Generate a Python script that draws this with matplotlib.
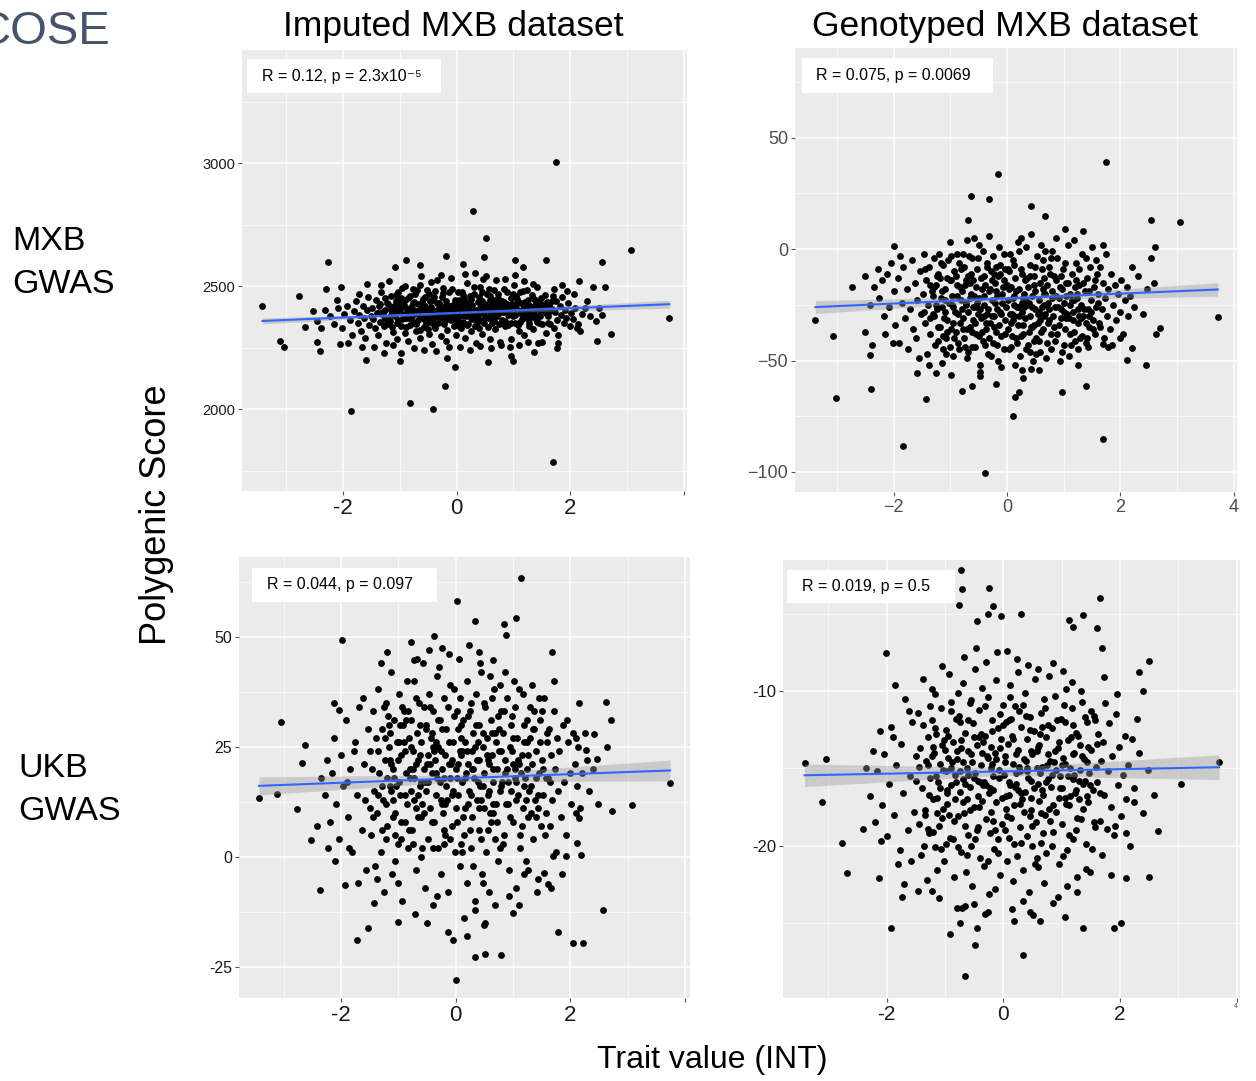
import numpy as np
import matplotlib
matplotlib.use("Agg")
import matplotlib.pyplot as plt
from matplotlib.patches import Rectangle

plt.rcParams['font.family'] = ['Liberation Sans', 'DejaVu Sans']
plt.rcParams['axes.unicode_minus'] = False

W, H = 1256, 1081

# --- data: (trait value, polygenic score) ---
imp_mxb_pts = [
    # outliers
    (1.74, 3005), (0.29, 2804), (0.52, 2695), (3.07, 2649), (-2.25, 2598), (-0.88, 2606),
    (-0.18, 2622), (0.49, 2618), (1.03, 2607), (1.58, 2606), (2.55, 2598), (-0.65, 2588),
    (-1.08, 2579), (0.11, 2591), (1.16, 2579), (-3.41, 2420), (3.74, 2370), (-3.11, 2278),
    (-3.04, 2253), (-2.4, 2238), (2.72, 2306), (2.46, 2276), (-1.59, 2200), (-1.0, 2198),
    (-0.16, 2210), (-0.02, 2173), (0.56, 2192), (0.99, 2195), (0.96, 2218), (1.37, 2233),
    (-0.21, 2093), (-0.81, 2024), (-0.41, 2002), (-1.85, 1994), (1.69, 1785), (-2.76, 2460),
    (-2.67, 2333), (-2.46, 2272), (-2.04, 2266), (-2.29, 2487), (-2.03, 2495), (2.4, 2498),
    (2.61, 2495), (2.15, 2522), (1.76, 2251), (1.78, 2270),
    # cloud
    (-2.31, 2402), (-2.22, 2378), (-2.15, 2345), (-2.08, 2410), (-2.02, 2332), (-1.97, 2389),
    (-1.93, 2421), (-1.88, 2361), (-1.84, 2302), (-1.80, 2398), (-1.77, 2440), (-1.74, 2352),
    (-1.71, 2385), (-1.68, 2318), (-1.65, 2420), (-1.62, 2372), (-1.60, 2291), (-1.57, 2405),
    (-1.55, 2455), (-1.53, 2343), (-2.45, 2360), (-2.52, 2398), (-2.38, 2332), (-1.9, 2270),
    (-1.72, 2468), (-2.1, 2443), (-1.66, 2255), (-1.58, 2510), (-1.5, 2380),
    (-1.48, 2412), (-1.46, 2368), (-1.44, 2330), (-1.42, 2445), (-1.40, 2390), (-1.38, 2301),
    (-1.36, 2421), (-1.34, 2356), (-1.32, 2478), (-1.30, 2383), (-1.28, 2340), (-1.26, 2404),
    (-1.24, 2268), (-1.22, 2431), (-1.20, 2372), (-1.18, 2349), (-1.16, 2461), (-1.14, 2395),
    (-1.12, 2316), (-1.10, 2418), (-1.08, 2378), (-1.06, 2440), (-1.04, 2285), (-1.02, 2362),
    (-1.00, 2406), (-0.98, 2339), (-0.96, 2492), (-0.94, 2387), (-0.92, 2425), (-0.90, 2310),
    (-0.88, 2370), (-0.86, 2451), (-0.84, 2396), (-0.82, 2344), (-0.80, 2415), (-1.45, 2255),
    (-1.33, 2505), (-1.27, 2230), (-1.19, 2520), (-1.11, 2262), (-1.03, 2475), (-0.97, 2228),
    (-0.91, 2500), (-0.85, 2277), (-1.37, 2392), (-1.25, 2366), (-1.15, 2385), (-1.05, 2399),
    (-0.95, 2365), (-0.87, 2408),
    (-0.79, 2380), (-0.77, 2432), (-0.76, 2355), (-0.74, 2401), (-0.73, 2468), (-0.71, 2318),
    (-0.70, 2390), (-0.68, 2427), (-0.67, 2362), (-0.65, 2505), (-0.64, 2288), (-0.62, 2411),
    (-0.61, 2375), (-0.59, 2448), (-0.58, 2336), (-0.56, 2396), (-0.55, 2420), (-0.53, 2350),
    (-0.52, 2483), (-0.50, 2372), (-0.49, 2308), (-0.47, 2439), (-0.46, 2392), (-0.44, 2415),
    (-0.43, 2265), (-0.41, 2366), (-0.40, 2458), (-0.38, 2384), (-0.37, 2329), (-0.35, 2405),
    (-0.34, 2527), (-0.32, 2352), (-0.31, 2430), (-0.29, 2389), (-0.28, 2296), (-0.26, 2413),
    (-0.25, 2370), (-0.23, 2472), (-0.22, 2345), (-0.20, 2398), (-0.19, 2440), (-0.17, 2321),
    (-0.16, 2382), (-0.14, 2418), (-0.13, 2254), (-0.11, 2395), (-0.10, 2362), (-0.08, 2490),
    (-0.07, 2408), (-0.05, 2339), (-0.04, 2427), (-0.02, 2374), (-0.01, 2301), (-0.75, 2248),
    (-0.63, 2540), (-0.57, 2240), (-0.45, 2518), (-0.36, 2238), (-0.27, 2545), (-0.18, 2276),
    (-0.09, 2535), (-0.66, 2385), (-0.54, 2402), (-0.42, 2377), (-0.33, 2396), (-0.24, 2404),
    (-0.15, 2367), (-0.06, 2412), (-0.48, 2355), (-0.21, 2420),
    (0.01, 2418), (0.02, 2370), (0.04, 2445), (0.05, 2392), (0.07, 2330), (0.08, 2410),
    (0.10, 2478), (0.11, 2356), (0.13, 2401), (0.14, 2289), (0.16, 2433), (0.17, 2381),
    (0.19, 2515), (0.20, 2347), (0.22, 2412), (0.23, 2462), (0.25, 2372), (0.26, 2318),
    (0.28, 2425), (0.29, 2395), (0.31, 2497), (0.32, 2340), (0.34, 2405), (0.35, 2268),
    (0.37, 2438), (0.38, 2384), (0.40, 2457), (0.41, 2362), (0.43, 2415), (0.44, 2305),
    (0.46, 2392), (0.47, 2530), (0.49, 2350), (0.50, 2428), (0.52, 2376), (0.53, 2470),
    (0.55, 2333), (0.56, 2403), (0.58, 2443), (0.59, 2287), (0.61, 2388), (0.62, 2419),
    (0.64, 2361), (0.65, 2486), (0.67, 2398), (0.68, 2326), (0.70, 2437), (0.71, 2380),
    (0.73, 2452), (0.74, 2348), (0.76, 2408), (0.77, 2272), (0.79, 2420), (0.06, 2252),
    (0.15, 2548), (0.24, 2240), (0.33, 2552), (0.42, 2258), (0.51, 2540), (0.60, 2250),
    (0.69, 2525), (0.78, 2260), (0.03, 2398), (0.12, 2385), (0.21, 2390), (0.30, 2378),
    (0.39, 2409), (0.48, 2397), (0.57, 2371), (0.66, 2414), (0.75, 2392), (0.18, 2428),
    (0.45, 2440), (0.63, 2402), (0.27, 2365),
    (0.81, 2395), (0.83, 2438), (0.85, 2360), (0.87, 2415), (0.89, 2475), (0.91, 2341),
    (0.93, 2402), (0.95, 2286), (0.97, 2426), (0.99, 2380), (1.01, 2505), (1.03, 2352),
    (1.05, 2410), (1.07, 2448), (1.09, 2318), (1.11, 2392), (1.13, 2430), (1.15, 2366),
    (1.17, 2480), (1.19, 2300), (1.21, 2405), (1.23, 2373), (1.25, 2445), (1.27, 2338),
    (1.29, 2418), (1.31, 2390), (1.33, 2465), (1.35, 2325), (1.37, 2400), (1.39, 2432),
    (1.41, 2356), (1.43, 2268), (1.45, 2412), (1.47, 2380), (1.49, 2452), (1.51, 2345),
    (1.53, 2420), (1.55, 2398), (1.57, 2310), (1.59, 2436), (0.86, 2530), (0.94, 2255),
    (1.02, 2545), (1.10, 2262), (1.18, 2520), (1.26, 2275), (1.34, 2510), (1.42, 2498),
    (1.50, 2275), (0.90, 2385), (0.98, 2410), (1.14, 2398), (1.22, 2383), (1.38, 2376),
    (1.46, 2405),
    (1.61, 2380), (1.63, 2425), (1.65, 2345), (1.67, 2408), (1.69, 2462), (1.71, 2330),
    (1.73, 2396), (1.75, 2440), (1.77, 2362), (1.79, 2300), (1.81, 2418), (1.83, 2385),
    (1.86, 2455), (1.88, 2350), (1.90, 2402), (1.93, 2372), (1.96, 2432), (1.99, 2340),
    (2.02, 2392), (2.05, 2365), (2.08, 2410), (2.11, 2330), (2.14, 2345), (2.17, 2320),
    (2.20, 2388), (2.25, 2412), (1.72, 2490), (1.85, 2505), (1.95, 2480), (2.06, 2470),
    (2.3, 2440), (2.35, 2380), (2.5, 2410), (2.55, 2385), (2.45, 2360),
]
# the solid black core of the cloud
imp_mxb_core = [
    (-1.29, 2395), (-1.21, 2426), (-1.17, 2358), (-1.09, 2401), (-1.01, 2442), (-0.93, 2373),
    (-0.89, 2333), (-0.81, 2459), (-0.78, 2411), (-0.72, 2345), (-0.69, 2398), (-0.6, 2436),
    (-0.51, 2389), (-0.48, 2470), (-0.39, 2341), (-0.3, 2412), (-0.26, 2455), (-0.12, 2376),
    (-0.03, 2443), (0.0, 2360), (0.09, 2425), (0.12, 2463), (0.18, 2341), (0.27, 2405),
    (0.36, 2352), (0.45, 2478), (0.54, 2415), (0.63, 2350), (0.72, 2468), (0.8, 2362),
    (0.88, 2426), (0.96, 2349), (1.04, 2461), (1.12, 2356), (1.2, 2435), (1.28, 2366),
    (1.36, 2449), (1.44, 2378), (1.52, 2402), (1.6, 2352), (1.68, 2440), (-1.25, 2451),
    (-1.13, 2333), (-0.99, 2418), (-0.86, 2385), (-0.74, 2437), (-0.65, 2322), (-0.55, 2457),
    (-0.44, 2384), (-0.35, 2433), (-0.21, 2363), (-0.14, 2476), (-0.06, 2395), (0.04, 2338),
    (0.13, 2450), (0.22, 2382), (0.3, 2469), (0.39, 2330), (0.48, 2423), (0.57, 2489),
    (0.66, 2358), (0.74, 2421), (0.83, 2487), (0.92, 2397), (1.0, 2470), (1.08, 2342),
    (1.16, 2409), (1.24, 2486), (1.32, 2408), (1.4, 2365), (1.48, 2427), (1.56, 2465),
    (-1.35, 2428), (-1.23, 2347), (-1.07, 2466), (-0.95, 2420), (-0.83, 2371), (-0.7, 2484),
    (-0.62, 2395), (-0.5, 2325), (-0.41, 2446), (-0.32, 2374), (-0.23, 2492), (-0.1, 2420),
    (0.02, 2475), (0.07, 2385), (0.16, 2401), (0.25, 2448), (0.34, 2377), (0.41, 2495),
    (0.5, 2372), (0.59, 2461), (0.68, 2392), (0.77, 2440), (0.86, 2338), (0.95, 2453),
    (1.03, 2383), (1.11, 2475), (1.19, 2420), (1.27, 2351), (1.35, 2383), (1.43, 2440),
    (1.58, 2390), (-0.97, 2452), (-0.77, 2490), (-0.58, 2367), (-0.37, 2481), (-0.18, 2407),
    (0.1, 2346), (0.28, 2386), (0.47, 2411), (0.65, 2446), (0.84, 2404), (1.05, 2428),
    (1.25, 2398), (1.45, 2349), (-1.15, 2407), (-1.05, 2352), (-0.9, 2445), (-0.8, 2400),
    (-0.6, 2410), (-0.4, 2400), (-0.2, 2385), (0.2, 2420), (0.4, 2395), (0.6, 2425),
    (0.8, 2440), (1.0, 2395), (1.2, 2378), (1.4, 2418), (1.65, 2400),
]

gen_mxb_pts = [
    # outliers
    (1.74, 39.1), (-0.16, 33.7), (-0.64, 23.8), (-0.32, 22.6), (0.42, 19.6), (-0.69, 13.2),
    (0.67, 15.0), (2.54, 13.2), (3.06, 12.0), (-2.0, 1.5), (2.61, 1.0), (-3.38, -31.6),
    (3.72, -30.5), (-3.07, -38.8), (-3.01, -66.6), (-2.4, -62.7), (-1.42, -67.2), (-1.84, -88.3),
    (-0.39, -100.3), (0.1, -74.8), (1.69, -85.0), (1.39, -61.2), (0.98, -64.2), (0.14, -66.3),
    (0.21, -64.1), (-0.79, -63.8), (-0.62, -61.2), (-0.19, -60.3), (2.45, -51.8), (2.12, -49.9),
    (1.25, -51.8), (2.63, -38.3), (2.7, -35.3), (-2.73, -16.9), (-2.5, -37.1), (-2.38, -43.0),
    (-2.42, -47.6), (-2.01, -42.0), (-1.58, -55.5), (-1.26, -55.5), (-0.98, -56.7), (-0.47, -57.0),
    (0.27, -54.3), (0.28, -57.8), (0.42, -54.0), (0.57, -54.3), (1.69, -42.4), (1.78, -43.9),
    (2.21, -44.3),
    # cloud
    (-2.28, -9), (-2.25, -22), (-2.2, -14), (-2.17, -30), (-2.12, -11), (-2.08, -26), (-2.05, -6),
    (-2.0, -19), (-1.97, -34), (-1.93, -13), (-1.9, -42), (-1.86, -24), (-1.83, -8), (-1.8, -31),
    (-1.77, -18), (-1.74, -45), (-1.71, -27), (-1.68, -5), (-1.65, -36), (-1.62, -15), (-1.59, -23),
    (-1.56, -49), (-1.53, -10), (-1.51, -29), (-2.35, -17), (-2.42, -25), (-2.5, -12), (-1.88, -3),
    (-1.6, -40), (-2.15, -38),
    (-1.49, -20), (-1.47, -2), (-1.45, -33), (-1.43, -14), (-1.41, -47), (-1.39, -25), (-1.37, -8),
    (-1.35, -38), (-1.33, -19), (-1.31, -29), (-1.29, -4), (-1.27, -43), (-1.25, -16), (-1.23, -27),
    (-1.21, -11), (-1.19, -35), (-1.17, -22), (-1.15, -51), (-1.13, -7), (-1.11, -31), (-1.09, -18),
    (-1.07, -40), (-1.05, -13), (-1.03, -24), (-1.01, 3), (-0.99, -36), (-0.97, -21), (-0.95, -48),
    (-0.93, -10), (-0.91, -28), (-0.89, -16), (-0.87, -42), (-0.85, -6), (-0.83, -33), (-0.81, -23),
    (-1.46, -28), (-1.38, -52), (-1.3, -21), (-1.22, -41), (-1.14, -26), (-1.06, -32), (-0.98, -14),
    (-0.9, -37), (-0.84, -45), (-1.44, -9), (-1.36, -16), (-1.28, -30), (-1.2, -2), (-1.12, -45),
    (-1.04, -5), (-0.96, -26), (-0.88, -2), (-1.18, -13), (-1.1, -23), (-1.0, -44),
    (-0.79, -19), (-0.78, -31), (-0.76, -8), (-0.75, -40), (-0.73, -24), (-0.72, -14), (-0.7, -49),
    (-0.69, -28), (-0.67, -3), (-0.66, -35), (-0.64, -20), (-0.63, -11), (-0.61, -44), (-0.6, -26),
    (-0.58, 5), (-0.57, -33), (-0.55, -17), (-0.54, -38), (-0.52, -9), (-0.51, -29), (-0.49, -22),
    (-0.48, -52), (-0.46, -13), (-0.45, -31), (-0.43, -1), (-0.42, -41), (-0.4, -25), (-0.39, -16),
    (-0.37, -36), (-0.36, -6), (-0.34, -27), (-0.33, -47), (-0.31, -19), (-0.3, -33), (-0.28, -10),
    (-0.27, -23), (-0.25, -42), (-0.24, -3), (-0.22, -30), (-0.21, -15), (-0.19, -37), (-0.18, -21),
    (-0.16, -50), (-0.15, -12), (-0.13, -28), (-0.12, -7), (-0.1, -39), (-0.09, -24), (-0.07, -17),
    (-0.06, -45), (-0.04, -32), (-0.03, -9), (-0.01, -26), (-0.74, -16), (-0.62, -37), (-0.53, -24),
    (-0.44, -18), (-0.35, -29), (-0.26, -14), (-0.17, -27), (-0.08, -20), (-0.71, 4), (-0.5, 2),
    (-0.32, 6), (-0.14, 1), (-0.68, -46), (-0.47, -55), (-0.29, -48), (-0.11, -53), (-0.65, -22),
    (-0.41, -12), (-0.23, -35), (-0.05, -2), (-0.56, -44), (-0.2, -8),
    (0.01, -23), (0.02, -36), (0.04, -10), (0.05, -29), (0.07, -17), (0.08, -44), (0.1, -5),
    (0.11, -32), (0.13, -21), (0.14, -13), (0.16, -40), (0.17, -26), (0.19, 3), (0.2, -34),
    (0.22, -18), (0.23, -48), (0.25, -9), (0.26, -28), (0.28, -22), (0.29, -38), (0.31, -14),
    (0.32, -31), (0.34, 1), (0.35, -25), (0.37, -43), (0.38, -17), (0.4, -30), (0.41, -7),
    (0.43, -35), (0.44, -21), (0.46, -50), (0.47, -12), (0.49, -27), (0.5, -19), (0.52, -40),
    (0.53, -3), (0.55, -33), (0.56, -23), (0.58, -15), (0.59, -46), (0.61, -26), (0.62, -9),
    (0.64, -36), (0.65, -20), (0.67, -29), (0.68, -1), (0.7, -42), (0.71, -16), (0.73, -24),
    (0.74, -32), (0.76, -11), (0.77, -38), (0.79, -22), (0.06, -2), (0.15, -52), (0.24, 5),
    (0.33, -45), (0.42, 7), (0.51, -47), (0.6, 2), (0.69, -49), (0.78, -4), (0.03, -18),
    (0.12, -25), (0.21, -30), (0.3, -20), (0.39, -24), (0.48, -34), (0.57, -28), (0.66, -13),
    (0.75, -27), (0.09, -39), (0.27, -11), (0.45, -26), (0.63, -18),
    (0.81, -30), (0.83, -12), (0.85, -41), (0.87, -21), (0.89, -4), (0.91, -34), (0.93, -17),
    (0.95, -27), (0.97, -46), (0.99, -9), (1.01, -24), (1.03, -36), (1.05, -15), (1.07, 2),
    (1.09, -31), (1.11, -20), (1.13, -43), (1.15, -11), (1.17, -28), (1.19, -37), (1.21, -6),
    (1.23, -22), (1.25, -33), (1.27, -16), (1.29, -40), (1.31, -25), (1.33, -2), (1.35, -30),
    (1.37, -19), (1.39, -42), (1.41, -13), (1.43, -27), (1.45, -35), (1.47, -8), (1.49, -23),
    (1.51, -32), (1.53, -17), (1.55, -38), (1.57, -26), (1.59, -11), (0.86, 5), (0.94, -50),
    (1.02, 9), (1.1, -48), (1.18, 4), (1.26, -45), (1.34, 8), (1.42, -40), (1.5, 1), (0.9, -26),
    (0.98, -18), (1.06, -29), (1.14, -23), (1.22, -14), (1.3, -31),
    (1.61, -20), (1.63, -33), (1.65, -8), (1.67, -27), (1.69, -15), (1.71, -40), (1.73, -22),
    (1.75, -2), (1.77, -30), (1.79, -18), (1.81, -36), (1.84, -11), (1.87, -25), (1.9, -16),
    (1.93, -32), (1.96, -20), (1.99, -28), (2.02, -14), (2.05, -38), (2.08, -23), (2.11, -17),
    (2.14, -30), (2.17, -21), (2.2, -8), (2.25, -26), (2.32, -12), (2.4, -29), (2.48, -18),
    (2.55, -4), (2.6, -15), (1.85, -43), (2.0, -40), (1.7, 2),
]
gen_mxb_core = [
    (-1.29, -17), (-1.21, -35), (-1.17, -6), (-1.09, -28), (-1.01, -14), (-0.93, -40), (-0.89, -21),
    (-0.81, -9), (-0.78, -36), (-0.72, -25), (-0.69, -12), (-0.6, -32), (-0.51, -4), (-0.48, -27),
    (-0.39, -43), (-0.3, -18), (-0.26, -30), (-0.12, -11), (-0.03, -38), (0.0, -16), (0.09, -29),
    (0.12, -7), (0.18, -42), (0.27, -24), (0.36, -13), (0.45, -35), (0.54, -29), (0.63, -5),
    (0.72, -33), (0.8, -19), (0.88, -38), (0.96, -12), (1.04, -31), (1.12, -25), (1.2, -41),
    (1.28, -9), (1.36, -27), (1.44, -19), (1.52, -36), (1.6, -24), (-1.25, -25), (-1.13, -39),
    (-0.99, -3), (-0.86, -29), (-0.74, -44), (-0.65, -15), (-0.55, -26), (-0.44, -37), (-0.35, -8),
    (-0.21, -24), (-0.14, -34), (-0.06, -14), (0.04, -45), (0.13, -30), (0.22, -1), (0.3, -26),
    (0.39, -37), (0.48, -16), (0.57, -41), (0.66, -25), (0.74, -8), (0.83, -35), (0.92, -22),
    (1.0, -43), (1.08, -15), (1.16, -32), (1.24, -20), (1.32, -39), (1.4, -4), (1.48, -28),
    (1.56, -14), (-1.35, -31), (-1.23, -12), (-1.07, -47), (-0.95, -33), (-0.83, -17), (-0.7, -36),
    (-0.62, -4), (-0.5, -39), (-0.41, -21), (-0.32, -40), (-0.23, -11), (-0.1, -29), (0.02, -9),
    (0.07, -33), (0.16, -19), (0.25, -39), (0.34, -23), (0.41, -46), (0.5, -8), (0.59, -32),
    (0.68, -20), (0.77, -45), (0.86, -14), (0.95, -31), (1.03, -6), (1.11, -38), (1.19, -23),
    (1.27, -30), (1.35, -15), (1.43, -44), (1.58, -5), (-0.97, -25), (-0.77, -2), (-0.58, -21),
    (-0.37, -33), (-0.18, -43), (0.1, -22), (0.28, -34), (0.47, -41), (0.65, -30), (0.84, -26),
    (1.05, -21), (1.25, -27), (1.45, -30), (-1.15, -19), (-1.05, -37), (-0.9, -12), (-0.8, -27),
    (-0.6, -14), (-0.4, -30), (-0.2, -19), (0.2, -26), (0.4, -12), (0.6, -37), (0.8, -1),
    (1.0, -28), (1.2, -17), (1.4, -33), (1.65, -35),
]

imp_ukb_pts = [
    # outliers
    (1.14, 63.3), (0.03, 58.0), (1.06, 54.2), (0.33, 53.6), (0.84, 52.8), (0.88, 50.4),
    (-0.38, 50.2), (-1.98, 49.2), (-0.78, 48.9), (-0.24, 47.5), (-1.19, 46.5), (0.4, 46.6),
    (1.68, 46.5), (-0.72, 44.8), (0.65, 44.6), (-3.05, 30.7), (-2.12, 35.0), (-2.04, 33.4),
    (-2.62, 25.4), (-2.68, 21.3), (-3.43, 13.3), (-3.11, 14.3), (-2.77, 10.9), (3.74, 16.7),
    (3.08, 11.7), (2.73, 10.5), (2.71, 31.1), (2.63, 35.2), (2.65, 24.9), (-2.52, 3.7),
    (-2.23, 2.0), (-2.36, -7.5), (-1.93, -6.4), (-1.72, -19.0), (-1.53, -16.2), (-1.42, -10.5),
    (-1.0, -14.9), (-0.05, -19.0), (0.0, -27.9), (0.34, -22.8), (0.51, -22.1), (0.8, -22.3),
    (0.19, -18.0), (0.5, -15.4), (1.01, -12.9), (1.78, -17.1), (2.05, -19.6), (2.22, -19.6),
    (2.58, -12.0), (2.18, 0.4), (2.11, 3.1), (1.92, 0.1), (1.7, 0.2), (1.61, -6.1), (1.55, -3.8),
    (2.16, 8.7), (2.10, 10.0), (2.16, 34.9), (2.42, 27.9), (2.28, 24.2), (2.47, 22.1),
    # cloud
    (-2.28, 14), (-2.24, 22), (-2.2, 8), (-2.16, 19), (-2.12, 27), (-2.08, 12), (-2.04, 4),
    (-2.0, 23), (-1.96, 16), (-1.92, 31), (-1.88, 9), (-1.84, 20), (-1.8, 1), (-1.76, 26),
    (-1.72, 14), (-1.68, 34), (-1.64, 6), (-1.6, 21), (-1.56, -3), (-1.53, 29), (-1.5, 11),
    (-2.35, 18), (-2.42, 7), (-1.9, 17), (-1.7, -6), (-1.62, 36), (-1.78, 24), (-2.1, -1),
    (-1.86, 2), (-1.58, 13),
    (-1.49, 24), (-1.47, 5), (-1.45, 33), (-1.43, 15), (-1.41, -2), (-1.39, 27), (-1.37, 10),
    (-1.35, 38), (-1.33, 19), (-1.31, 1), (-1.29, 29), (-1.27, 13), (-1.25, -8), (-1.23, 22),
    (-1.21, 35), (-1.19, 7), (-1.17, 25), (-1.15, 16), (-1.13, 42), (-1.11, -4), (-1.09, 20),
    (-1.07, 31), (-1.05, 10), (-1.03, 26), (-1.01, 3), (-0.99, 37), (-0.97, 14), (-0.95, 23),
    (-0.93, -10), (-0.91, 30), (-0.89, 8), (-0.87, 19), (-0.85, 40), (-0.83, 2), (-0.81, 27),
    (-1.46, 20), (-1.38, -5), (-1.3, 44), (-1.22, 12), (-1.14, 28), (-1.06, -1), (-0.98, 17),
    (-0.9, 33), (-0.84, 12), (-1.44, 9), (-1.36, 24), (-1.28, 6), (-1.2, 18), (-1.12, 21),
    (-1.04, 16), (-0.96, 4), (-0.88, 24), (-1.18, 32), (-1.1, 13), (-1.0, -6),
    (-0.79, 18), (-0.78, 31), (-0.76, 6), (-0.75, 24), (-0.73, 13), (-0.72, 40), (-0.7, -3),
    (-0.69, 21), (-0.67, 28), (-0.66, 9), (-0.64, 35), (-0.63, 16), (-0.61, 0), (-0.6, 26),
    (-0.58, 12), (-0.57, 44), (-0.55, 20), (-0.54, -7), (-0.52, 30), (-0.51, 15), (-0.49, 23),
    (-0.48, 4), (-0.46, 37), (-0.45, 11), (-0.43, 27), (-0.42, 19), (-0.4, -11), (-0.39, 33),
    (-0.37, 8), (-0.36, 22), (-0.34, 14), (-0.33, 41), (-0.31, 2), (-0.3, 25), (-0.28, 17),
    (-0.27, 31), (-0.25, -4), (-0.24, 20), (-0.22, 10), (-0.21, 36), (-0.19, 23), (-0.18, 5),
    (-0.16, 29), (-0.15, 13), (-0.13, -8), (-0.12, 26), (-0.1, 18), (-0.09, 39), (-0.07, 7),
    (-0.06, 22), (-0.04, 15), (-0.03, 32), (-0.01, 1), (-0.74, 20), (-0.62, 23), (-0.53, 17),
    (-0.44, 21), (-0.35, 19), (-0.26, 24), (-0.17, 16), (-0.08, 21), (-0.71, -13), (-0.5, -15),
    (-0.32, -9), (-0.14, -17), (-0.68, 45), (-0.47, 47), (-0.29, 43), (-0.11, 46), (-0.65, 14),
    (-0.41, 28), (-0.23, 12), (-0.05, 26), (-0.56, 34), (-0.2, 3),
    (0.01, 20), (0.02, 8), (0.04, 29), (0.05, 14), (0.07, 36), (0.08, -2), (0.1, 23), (0.11, 17),
    (0.13, 31), (0.14, 5), (0.16, 26), (0.17, 11), (0.19, 40), (0.2, -6), (0.22, 21), (0.23, 15),
    (0.25, 33), (0.26, 2), (0.28, 24), (0.29, 9), (0.31, 28), (0.32, 18), (0.34, -10), (0.35, 37),
    (0.37, 13), (0.38, 22), (0.4, 6), (0.41, 30), (0.43, 16), (0.44, 42), (0.46, -4), (0.47, 25),
    (0.49, 11), (0.5, 19), (0.52, 34), (0.53, 1), (0.55, 27), (0.56, 14), (0.58, 21), (0.59, -8),
    (0.61, 31), (0.62, 8), (0.64, 23), (0.65, 17), (0.67, 38), (0.68, 4), (0.7, 26), (0.71, 12),
    (0.73, 20), (0.74, -1), (0.76, 29), (0.77, 15), (0.79, 33), (0.06, 45), (0.15, -14),
    (0.24, 48), (0.33, -12), (0.42, 44), (0.51, -15), (0.6, 41), (0.69, -11), (0.78, 39),
    (0.03, 18), (0.12, 24), (0.21, 12), (0.3, 20), (0.39, 26), (0.48, 16), (0.57, 22), (0.66, 10),
    (0.75, 24), (0.09, 3), (0.27, 35), (0.45, 13), (0.63, 28),
    (0.81, 17), (0.83, 28), (0.85, 5), (0.87, 22), (0.89, 36), (0.91, 12), (0.93, -3), (0.95, 25),
    (0.97, 15), (0.99, 32), (1.01, 8), (1.03, 20), (1.05, -7), (1.07, 27), (1.09, 14), (1.11, 38),
    (1.13, 2), (1.15, 23), (1.17, 11), (1.19, 30), (1.21, 18), (1.23, -1), (1.25, 26), (1.27, 9),
    (1.29, 34), (1.31, 16), (1.33, 21), (1.35, 4), (1.37, 29), (1.39, 13), (1.41, 24), (1.43, -5),
    (1.45, 19), (1.47, 31), (1.49, 7), (1.51, 22), (1.53, 14), (1.55, 36), (1.57, 10), (1.59, 26),
    (0.86, 42), (0.94, -9), (1.02, 40), (1.1, -11), (1.18, 37), (1.26, -3), (1.34, 39),
    (1.42, -8), (1.5, 33), (0.9, 20), (0.98, 24), (1.06, 17), (1.14, 19), (1.22, 13), (1.3, 27),
    (1.61, 18), (1.63, 29), (1.65, 7), (1.67, 23), (1.69, 13), (1.71, 33), (1.73, 20), (1.75, 1),
    (1.77, 27), (1.79, 15), (1.81, 24), (1.84, 9), (1.87, 30), (1.9, 17), (1.93, 5), (1.96, 26),
    (1.99, 19), (2.02, 12), (2.05, 28), (2.08, 21), (2.11, 16), (2.14, 25), (2.17, 11), (2.2, 19),
    (2.25, 28), (2.32, 15), (2.4, 20), (2.48, 12), (1.72, 40), (1.85, -4), (1.95, 31), (2.1, 27),
    (1.66, -7), (2.3, 22),
]
imp_ukb_core = [
    (-1.29, 16), (-1.21, 4), (-1.17, 30), (-1.09, 9), (-1.01, 22), (-0.93, 34), (-0.89, 14),
    (-0.81, 6), (-0.78, 25), (-0.72, 18), (-0.69, 36), (-0.6, 9), (-0.51, 29), (-0.48, 17),
    (-0.39, 2), (-0.3, 31), (-0.26, 13), (-0.12, 21), (-0.03, 38), (0.0, 11), (0.09, 27),
    (0.12, 1), (0.18, 19), (0.27, 14), (0.36, 30), (0.45, 4), (0.54, 23), (0.63, 36), (0.72, 8),
    (0.8, 24), (0.88, 12), (0.96, 30), (1.04, 18), (1.12, 5), (1.2, 26), (1.28, 15), (1.36, 33),
    (1.44, 11), (1.52, 20), (1.6, 28), (-1.25, 34), (-1.13, 15), (-0.99, 26), (-0.86, 31),
    (-0.74, 3), (-0.65, 22), (-0.55, 10), (-0.44, 34), (-0.35, 26), (-0.21, 6), (-0.14, 34),
    (-0.06, 14), (0.04, 21), (0.13, 9), (0.22, 32), (0.3, -2), (0.39, 17), (0.48, 28), (0.57, 6),
    (0.66, 20), (0.74, 32), (0.83, 3), (0.92, 17), (1.0, 27), (1.08, 22), (1.16, 7), (1.24, 31),
    (1.32, 10), (1.4, 18), (1.48, 26), (1.56, 5), (-1.35, 14), (-1.23, 27), (-1.07, 18),
    (-0.95, 8), (-0.83, 33), (-0.7, 11), (-0.62, 30), (-0.5, 21), (-0.41, 8), (-0.32, 18),
    (-0.23, 29), (-0.1, 4), (0.02, 33), (0.07, 24), (0.16, 18), (0.25, 6), (0.34, 25), (0.41, 11),
    (0.5, 35), (0.59, 15), (0.68, 28), (0.77, 2), (0.86, 19), (0.95, 9), (1.03, 34), (1.11, 21),
    (1.19, -4), (1.27, 23), (1.35, 29), (1.43, 14), (1.58, 18), (-0.97, 30), (-0.77, 15),
    (-0.58, 2), (-0.37, 24), (-0.18, 12), (0.1, 30), (0.28, 20), (0.47, -6), (0.65, 12),
    (0.84, 33), (1.05, 13), (1.25, 20), (1.45, 36), (-1.15, 22), (-1.05, 5), (-0.9, 26),
    (-0.8, 20), (-0.6, 17), (-0.4, 25), (-0.2, 18), (0.2, 24), (0.4, 22), (0.6, 10), (0.8, 16),
    (1.0, 21), (1.2, 16), (1.4, 9), (1.65, 17),
]

gen_ukb_pts = [
    # outliers
    (-0.73, -2.18), (-0.71, -3.38), (-0.24, -3.32), (-0.76, -4.42), (1.66, -4.0), (-0.17, -4.5),
    (-0.27, -5.04), (-0.04, -5.15), (0.31, -5.04), (1.37, -5.09), (1.13, -5.39), (-0.46, -5.46),
    (1.19, -5.87), (1.6, -5.95), (-2.02, -7.52), (1.7, -7.24), (2.5, -8.07), (2.32, -8.78),
    (2.39, -10.0), (-3.41, -14.65), (-3.05, -14.4), (-3.11, -17.15), (-2.77, -19.8),
    (-2.69, -21.8), (-2.13, -22.1), (-1.93, -25.3), (3.7, -14.6), (3.05, -16.0), (2.65, -19.07),
    (2.59, -16.7), (2.5, -22.0), (2.1, -22.1), (1.89, -25.3), (2.02, -25.0), (1.36, -25.3),
    (1.05, -24.6), (0.34, -27.1), (-0.65, -28.4), (-0.49, -26.4), (-0.91, -25.7), (-0.46, -25.3),
    (-0.74, -25.0), (0.18, -24.9), (0.45, -24.3), (0.63, -24.9), (-0.27, -24.3), (0.85, -23.7),
    (-0.8, -24.0), (-0.65, -23.9), (-1.73, -23.3), (-1.22, -22.9), (2.25, -17.2), (1.91, -18.7),
    # cloud
    (-2.28, -16.8), (-2.24, -13.9), (-2.2, -18.5), (-2.16, -15.2), (-2.12, -12.6), (-2.08, -17.4),
    (-2.04, -14.1), (-2.0, -19.4), (-1.96, -16.0), (-1.92, -12.3), (-1.88, -18.0), (-1.84, -14.8),
    (-1.8, -21.2), (-1.76, -13.4), (-1.72, -16.6), (-1.68, -10.5), (-1.64, -19.0), (-1.6, -15.5),
    (-1.56, -12.0), (-1.53, -17.8), (-1.5, -14.2), (-2.35, -15.0), (-2.4, -18.9), (-1.9, -13.0),
    (-1.7, -22.5), (-1.62, -11.3), (-1.78, -20.3), (-2.1, -19.7), (-1.86, -9.6), (-1.58, -21.0),
    (-1.49, -15.8), (-1.47, -11.4), (-1.45, -18.6), (-1.43, -13.7), (-1.41, -20.6), (-1.39, -16.3),
    (-1.37, -12.2), (-1.35, -17.7), (-1.33, -14.5), (-1.31, -22.2), (-1.29, -13.0), (-1.27, -19.2),
    (-1.25, -15.6), (-1.23, -9.9), (-1.21, -17.0), (-1.19, -14.0), (-1.17, -20.1), (-1.15, -12.8),
    (-1.13, -16.9), (-1.11, -23.4), (-1.09, -14.7), (-1.07, -11.1), (-1.05, -18.2), (-1.03, -15.1),
    (-1.01, -21.0), (-0.99, -12.5), (-0.97, -17.3), (-0.95, -14.3), (-0.93, -8.9), (-0.91, -19.5),
    (-0.89, -16.1), (-0.87, -13.3), (-0.85, -22.0), (-0.83, -15.4), (-0.81, -11.8), (-1.46, -22.9),
    (-1.38, -9.2), (-1.3, -18.9), (-1.22, -11.9), (-1.14, -21.6), (-1.06, -8.4), (-0.98, -19.9),
    (-0.9, -10.7), (-0.84, -18.4), (-1.44, -14.9), (-1.36, -20.0), (-1.28, -16.7), (-1.2, -13.6),
    (-1.12, -15.9), (-1.04, -17.6), (-0.96, -16.4), (-0.88, -14.6), (-1.18, -10.2), (-1.1, -18.7),
    (-1.0, -13.8),
    (-0.79, -14.4), (-0.78, -18.1), (-0.76, -11.6), (-0.75, -16.5), (-0.73, -20.4), (-0.72, -13.2),
    (-0.7, -15.7), (-0.69, -9.5), (-0.67, -17.9), (-0.66, -12.7), (-0.64, -21.7), (-0.63, -15.0),
    (-0.61, -13.9), (-0.6, -19.3), (-0.58, -10.8), (-0.57, -16.2), (-0.55, -14.1), (-0.54, -22.6),
    (-0.52, -12.1), (-0.51, -17.5), (-0.49, -15.3), (-0.48, -8.6), (-0.46, -19.0), (-0.45, -13.5),
    (-0.43, -16.8), (-0.42, -11.2), (-0.4, -20.8), (-0.39, -14.8), (-0.37, -17.1), (-0.36, -9.8),
    (-0.34, -15.9), (-0.33, -21.3), (-0.31, -12.9), (-0.3, -18.3), (-0.28, -14.2), (-0.27, -10.4),
    (-0.25, -16.6), (-0.24, -23.1), (-0.22, -13.6), (-0.21, -17.8), (-0.19, -11.9), (-0.18, -15.5),
    (-0.16, -20.2), (-0.15, -14.0), (-0.13, -9.3), (-0.12, -17.2), (-0.1, -12.4), (-0.09, -19.6),
    (-0.07, -15.1), (-0.06, -21.9), (-0.04, -13.1), (-0.03, -16.9), (-0.01, -10.9), (-0.74, -15.2),
    (-0.62, -17.0), (-0.53, -14.6), (-0.44, -15.8), (-0.35, -16.1), (-0.26, -14.3), (-0.17, -16.4),
    (-0.08, -15.6), (-0.71, -24.0), (-0.5, -23.8), (-0.32, -24.4), (-0.14, -22.8), (-0.68, -7.8),
    (-0.47, -7.2), (-0.29, -8.1), (-0.11, -7.5), (-0.65, -18.7), (-0.41, -13.0), (-0.23, -19.2),
    (-0.05, -11.5), (-0.56, -20.0), (-0.2, -12.6),
    (0.01, -15.4), (0.02, -19.0), (0.04, -12.0), (0.05, -16.8), (0.07, -21.0), (0.08, -13.4),
    (0.1, -15.9), (0.11, -9.6), (0.13, -18.2), (0.14, -12.9), (0.16, -22.3), (0.17, -14.7),
    (0.19, -17.4), (0.2, -11.0), (0.22, -16.0), (0.23, -20.7), (0.25, -13.8), (0.26, -8.8),
    (0.28, -18.8), (0.29, -15.2), (0.31, -12.3), (0.32, -17.0), (0.34, -21.6), (0.35, -14.4),
    (0.37, -10.1), (0.38, -16.5), (0.4, -19.4), (0.41, -13.1), (0.43, -15.6), (0.44, -23.0),
    (0.46, -11.7), (0.47, -17.7), (0.49, -14.1), (0.5, -20.0), (0.52, -12.6), (0.53, -16.3),
    (0.55, -9.2), (0.56, -18.5), (0.58, -15.0), (0.59, -21.4), (0.61, -13.5), (0.62, -17.1),
    (0.64, -11.4), (0.65, -19.8), (0.67, -14.9), (0.68, -16.7), (0.7, -10.5), (0.71, -18.0),
    (0.73, -13.0), (0.74, -20.5), (0.76, -15.7), (0.77, -12.2), (0.79, -17.6), (0.06, -7.4),
    (0.15, -24.1), (0.24, -7.9), (0.33, -23.6), (0.42, -8.3), (0.51, -24.5), (0.6, -8.6),
    (0.69, -22.4), (0.78, -9.0), (0.03, -14.2), (0.12, -16.1), (0.21, -15.3), (0.3, -16.6),
    (0.39, -14.5), (0.48, -15.8), (0.57, -13.9), (0.66, -16.4), (0.75, -14.8), (0.09, -19.5),
    (0.27, -11.3), (0.45, -18.1), (0.63, -12.8),
    (0.81, -16.2), (0.83, -12.4), (0.85, -19.1), (0.87, -14.6), (0.89, -10.3), (0.91, -17.8),
    (0.93, -13.7), (0.95, -21.2), (0.97, -15.5), (0.99, -11.8), (1.01, -18.6), (1.03, -14.3),
    (1.05, -16.9), (1.07, -9.9), (1.09, -20.3), (1.11, -13.2), (1.13, -17.4), (1.15, -15.0),
    (1.17, -11.1), (1.19, -19.6), (1.21, -14.0), (1.23, -16.6), (1.25, -12.7), (1.27, -22.0),
    (1.29, -15.8), (1.31, -13.5), (1.33, -18.3), (1.35, -10.7), (1.37, -16.0), (1.39, -14.4),
    (1.41, -19.9), (1.43, -12.0), (1.45, -17.2), (1.47, -15.3), (1.49, -21.7), (1.51, -13.8),
    (1.53, -16.4), (1.55, -11.6), (1.57, -18.8), (1.59, -14.9), (0.86, -8.2), (0.94, -23.3),
    (1.02, -8.7), (1.1, -22.6), (1.18, -9.4), (1.26, -23.0), (1.34, -10.0), (1.42, -21.5),
    (1.5, -11.3), (0.9, -15.1), (0.98, -16.3), (1.06, -14.7), (1.14, -16.8), (1.22, -15.4),
    (1.3, -17.0),
    (1.61, -15.9), (1.63, -12.8), (1.65, -18.4), (1.67, -14.5), (1.69, -20.6), (1.71, -13.3),
    (1.73, -16.7), (1.75, -10.8), (1.77, -18.9), (1.79, -15.2), (1.81, -12.1), (1.84, -17.5),
    (1.87, -14.2), (1.9, -19.3), (1.93, -11.5), (1.96, -16.1), (1.99, -13.6), (2.02, -18.1),
    (2.05, -15.4), (2.08, -12.9), (2.11, -17.0), (2.14, -14.8), (2.17, -20.0), (2.2, -13.1),
    (2.25, -16.3), (2.32, -14.0), (2.4, -17.9), (2.48, -15.1), (1.72, -9.1), (1.85, -21.9),
    (1.95, -10.2), (2.1, -19.2), (2.3, -11.8),
]
gen_ukb_core = [
    (-1.29, -14.8), (-1.21, -19.1), (-1.17, -12.4), (-1.09, -16.3), (-1.01, -13.2), (-0.93, -18.0),
    (-0.89, -11.3), (-0.81, -15.9), (-0.78, -20.1), (-0.72, -13.7), (-0.69, -17.2), (-0.6, -11.9),
    (-0.51, -15.6), (-0.48, -19.6), (-0.39, -12.8), (-0.3, -16.1), (-0.26, -21.0), (-0.12, -14.4),
    (-0.03, -18.6), (0.0, -12.2), (0.09, -16.7), (0.12, -10.4), (0.18, -19.9), (0.27, -14.9),
    (0.36, -17.8), (0.45, -12.5), (0.54, -21.2), (0.63, -15.3), (0.72, -11.1), (0.8, -18.4),
    (0.88, -13.9), (0.96, -16.9), (1.04, -10.9), (1.12, -19.3), (1.2, -15.7), (1.28, -12.9),
    (1.36, -17.6), (1.44, -14.6), (1.52, -20.2), (1.6, -13.4), (-1.25, -11.0), (-1.13, -17.9),
    (-0.99, -15.2), (-0.86, -19.6), (-0.74, -12.0), (-0.65, -16.0), (-0.55, -10.6), (-0.44, -18.8),
    (-0.35, -13.3), (-0.21, -15.0), (-0.14, -19.0), (-0.06, -13.7), (0.04, -17.6), (0.13, -11.8),
    (0.22, -14.1), (0.3, -19.8), (0.39, -11.6), (0.48, -16.9), (0.57, -20.8), (0.66, -12.3),
    (0.74, -15.9), (0.83, -20.0), (0.92, -11.9), (1.0, -14.8), (1.08, -17.3), (1.16, -13.0),
    (1.24, -19.0), (1.32, -15.1), (1.4, -11.7), (1.48, -16.1), (1.56, -18.5), (-1.35, -18.0),
    (-1.23, -14.2), (-1.07, -20.2), (-0.95, -12.9), (-0.83, -17.0), (-0.7, -14.6), (-0.62, -20.6),
    (-0.5, -13.0), (-0.41, -17.5), (-0.32, -11.0), (-0.23, -16.3), (-0.1, -20.5), (0.02, -14.6),
    (0.07, -18.1), (0.16, -13.1), (0.25, -16.4), (0.34, -10.9), (0.41, -15.0), (0.5, -18.7),
    (0.59, -13.6), (0.68, -19.2), (0.77, -14.1), (0.86, -17.4), (0.95, -13.3), (1.03, -20.7),
    (1.11, -15.5), (1.19, -12.2), (1.27, -18.2), (1.35, -14.2), (1.43, -16.8), (1.58, -11.9),
    (-0.97, -16.6), (-0.77, -10.1), (-0.58, -17.7), (-0.37, -14.0), (-0.18, -18.4), (0.1, -11.9),
    (0.28, -17.3), (0.47, -13.9), (0.65, -17.9), (0.84, -15.4), (1.05, -12.0), (1.25, -16.4),
    (1.45, -13.6), (-1.15, -15.5), (-1.05, -13.5), (-0.9, -15.0), (-0.8, -13.9), (-0.6, -15.4),
    (-0.4, -15.9), (-0.2, -14.7), (0.2, -16.2), (0.4, -15.2), (0.6, -16.0), (0.8, -14.5),
    (1.0, -16.3), (1.2, -14.1), (1.4, -15.8), (1.65, -16.6),
]

# fitted line (left, middle, right) and half width of the grey band
imp_mxb_fit_x = [-3.41, 0.1, 3.74]
imp_mxb_fit_y = [2359, 2393, 2427]
imp_mxb_fit_se = [12, 4, 16]
gen_mxb_fit_x = [-3.38, 0.1, 3.72]
gen_mxb_fit_y = [-26.0, -22.0, -18.1]
gen_mxb_fit_se = [2.9, 1.0, 3.0]
imp_ukb_fit_x = [-3.43, 0.0, 3.74]
imp_ukb_fit_y = [16.1, 17.8, 19.6]
imp_ukb_fit_se = [2.05, 0.8, 2.35]
gen_ukb_fit_x = [-3.41, 0.0, 3.7]
gen_ukb_fit_y = [-15.45, -15.2, -14.93]
gen_ukb_fit_se = [0.73, 0.25, 0.8]

stat_labels = ["R = 0.12, p = 2.3x10\u207b\u2075", "R = 0.075, p = 0.0069",
               "R = 0.044, p = 0.097", "R = 0.019, p = 0.5"]
col_titles = ["Imputed MXB dataset", "Genotyped MXB dataset"]
row_titles = [("MXB", "GWAS"), ("UKB", "GWAS")]

x_major = [-2, 0, 2, 4]
x_minor = [-3, -1, 1, 3]

panels = [
    dict(pts=imp_mxb_pts + imp_mxb_core, fx=imp_mxb_fit_x, fy=imp_mxb_fit_y, se=imp_mxb_fit_se,
         box=(242, 50, 687, 491), xlim=(-3.77, 4.05), ylim=(1668, 3460),
         yt=[2000, 2500, 3000], ytl=["2000", "2500", "3000"], ymin=[1750, 2250, 2750, 3250],
         xtl=["-2", "0", "2", ""], yfs=10.5, xfs=16, tc="#1a1a1a",
         lab=stat_labels[0], lab_box=(247, 59, 441, 93), lab_x=262),
    dict(pts=gen_mxb_pts + gen_mxb_core, fx=gen_mxb_fit_x, fy=gen_mxb_fit_y, se=gen_mxb_fit_se,
         box=(795, 48, 1237, 492), xlim=(-3.74, 4.06), ylim=(-109.0, 90.3),
         yt=[-100, -50, 0, 50], ytl=["\u2212100", "\u221250", "0", "50"], ymin=[-75, -25, 25, 75],
         xtl=["\u22122", "0", "2", "4"], yfs=13, xfs=13, tc="#4d4d4d",
         lab=stat_labels[1], lab_box=(802, 58, 993, 93), lab_x=816),
    dict(pts=imp_ukb_pts + imp_ukb_core, fx=imp_ukb_fit_x, fy=imp_ukb_fit_y, se=imp_ukb_fit_se,
         box=(239, 557, 690, 998), xlim=(-3.78, 4.09), ylim=(-32.1, 68.1),
         yt=[-25, 0, 25, 50], ytl=["-25", "0", "25", "50"], ymin=[-12.5, 12.5, 37.5, 62.5],
         xtl=["-2", "0", "2", ""], yfs=11.5, xfs=16, tc="#1a1a1a",
         lab=stat_labels[2], lab_box=(252, 568, 437, 602), lab_x=267),
    dict(pts=gen_ukb_pts + gen_ukb_core, fx=gen_ukb_fit_x, fy=gen_ukb_fit_y, se=gen_ukb_fit_se,
         box=(783, 560, 1240, 998), xlim=(-3.78, 4.06), ylim=(-29.85, -1.53),
         yt=[-20, -10], ytl=["-20", "-10"], ymin=[-25, -15, -5],
         xtl=["-2", "0", "2", ""], yfs=12, xfs=15, tc="#1a1a1a",
         lab=stat_labels[3], lab_box=(787, 570, 955, 603), lab_x=802),
]

fig = plt.figure(figsize=(W / 100, H / 100), dpi=100)


def fx_(px):
    return px / W


def fy_(py):
    return 1 - py / H


for p in panels:
    l, t, r, b = p['box']
    ax = fig.add_axes([fx_(l), fy_(b), (r - l) / W, (b - t) / H])
    ax.set_facecolor('#EBEBEB')
    for s in ax.spines.values():
        s.set_visible(False)
    ax.set_xlim(*p['xlim'])
    ax.set_ylim(*p['ylim'])
    ax.set_xticks(x_major)
    ax.set_xticklabels(p['xtl'], fontsize=p['xfs'], color=p['tc'])
    ax.set_xticks(x_minor, minor=True)
    ax.set_yticks(p['yt'])
    ax.set_yticklabels(p['ytl'], fontsize=p['yfs'], color=p['tc'])
    ax.set_yticks(p['ymin'], minor=True)
    ax.tick_params(which='major', length=3, width=0.8, color='#555555', pad=2)
    ax.tick_params(which='minor', length=0)
    ax.grid(which='major', color='white', lw=1.1)
    ax.grid(which='minor', color='white', lw=0.5)
    ax.set_axisbelow(True)

    xs, ys = np.array(p['pts']).T
    ax.scatter(xs, ys, s=24, c='black', linewidths=0, zorder=2)

    fxs = np.array(p['fx'])
    fys = np.array(p['fy'])
    se = np.array(p['se'])
    ax.fill_between(fxs, fys - se, fys + se, color='#999999', alpha=0.4, lw=0, zorder=3)
    ax.plot(fxs, fys, color='#3366FF', lw=1.5, zorder=4)

    bl, bt, br, bb = p['lab_box']
    fig.add_artist(Rectangle((fx_(bl), fy_(bb)), (br - bl) / W, (bb - bt) / H,
                             transform=fig.transFigure, facecolor='white',
                             edgecolor='none', zorder=5))
    fig.text(fx_(p['lab_x']), fy_((bt + bb) / 2), p['lab'], fontsize=11.5,
             ha='left', va='center', color='black', zorder=6)

# the lone tiny "4" under the lower right panel
fig.text(fx_(1236), fy_(1007), "4", fontsize=5, ha='center', va='center', color='#555555')

# column and row titles
fig.text(fx_(453), fy_(36), col_titles[0], fontsize=25.5, ha='center', va='baseline')
fig.text(fx_(1005), fy_(36), col_titles[1], fontsize=25.5, ha='center', va='baseline')
# the reference crops this word at the left edge of the slide
fig.text(fx_(110), fy_(44), "COSE", fontsize=34, ha='right', va='baseline', color='#44546A')

fig.text(fx_(12), fy_(250), row_titles[0][0], fontsize=24.5, ha='left', va='baseline')
fig.text(fx_(12), fy_(293), row_titles[0][1], fontsize=24.5, ha='left', va='baseline')
fig.text(fx_(18), fy_(777), row_titles[1][0], fontsize=24.5, ha='left', va='baseline')
fig.text(fx_(18), fy_(820), row_titles[1][1], fontsize=24.5, ha='left', va='baseline')

fig.text(fx_(166), fy_(515), "Polygenic Score", fontsize=26, rotation=90,
         rotation_mode='anchor', ha='center', va='baseline')
fig.text(fx_(712), fy_(1068), "Trait value (INT)", fontsize=23, ha='center', va='baseline')

fig.savefig("out.png", dpi=100)
